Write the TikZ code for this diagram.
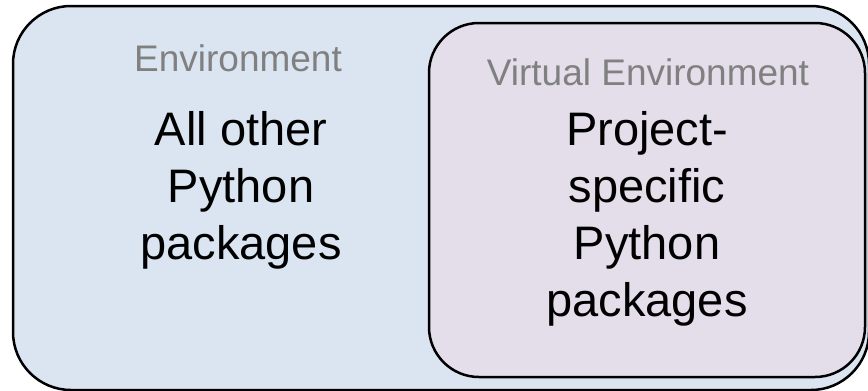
\documentclass[tikz,border=0pt]{standalone}
\usepackage{fontspec}
\setmainfont{Liberation Sans}
\definecolor{envblue}{RGB}{219,229,241}
\definecolor{venvpurple}{RGB}{227,222,234}
\definecolor{labelgray}{RGB}{128,128,128}
\tikzset{
  box/.style={draw=black,line width=2.5pt},
  title/.style={text=labelgray,font=\fontsize{37}{44}\selectfont,inner sep=0pt,anchor=north},
  content/.style={align=center,font=\fontsize{47}{57}\selectfont,inner sep=0pt,anchor=north},
}
\begin{document}
\begin{tikzpicture}[x=1pt,y=-1pt]
\clip (0,0) rectangle (868,391);
\fill[white] (0,0) rectangle (868,391);
\draw[box,fill=envblue,rounded corners=58pt] (13,6) rectangle (869,390);
\draw[box,fill=venvpurple,rounded corners=50pt] (429,23) rectangle (865,377);
\node[title] (envtitle) at (238,44) {Environment};
\node[content] (envtext) at (241,111) {All other\\Python\\packages};
\node[title] (venvtitle) at (648,58) {Virtual Environment};
\node[content] (venvtext) at (647,111) {Project-\\specific\\Python\\packages};
\end{tikzpicture}
\end{document}
